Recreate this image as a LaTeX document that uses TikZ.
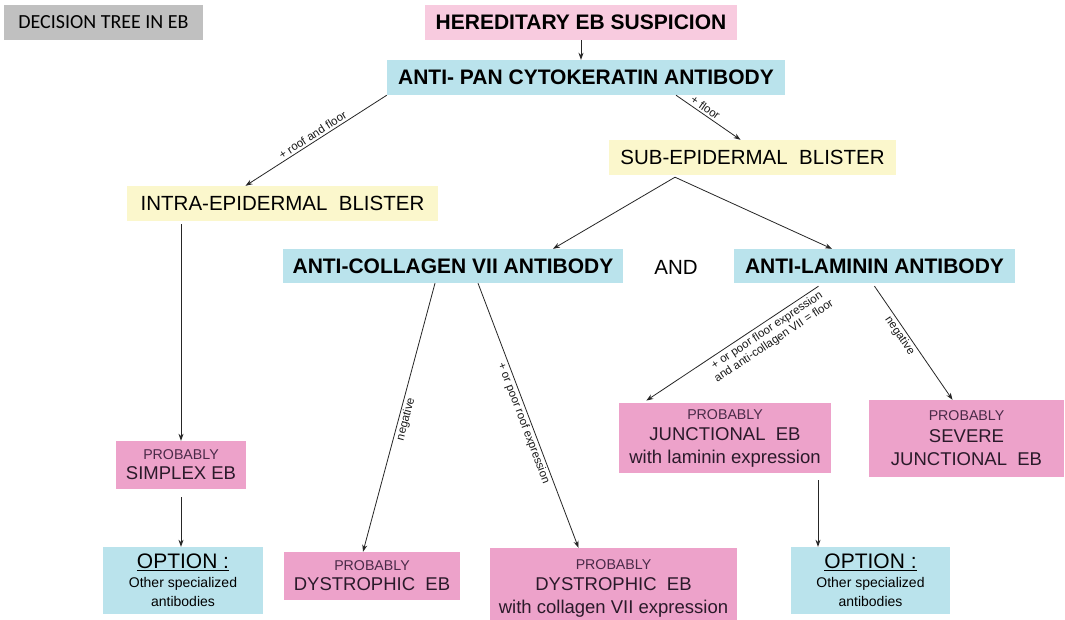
\documentclass[tikz,border=0pt]{standalone}
\usepackage{fontspec}
\setmainfont{Liberation Sans}
\newfontfamily\calfont{Carlito}
\usetikzlibrary{arrows.meta}
\definecolor{cgray}{HTML}{C0C0C0}
\definecolor{cpinkl}{HTML}{F8CBDF}
\definecolor{cblue}{HTML}{BAE3EC}
\definecolor{cyellow}{HTML}{FBF7CC}
\definecolor{cpink}{HTML}{EDA2CA}
\definecolor{ctxt}{HTML}{2A1A2A}
\definecolor{cprob}{HTML}{4A2A48}
\tikzset{
  box/.style={rectangle, inner sep=0pt, align=center, text=black},
  hdr/.style={box, font=\fontsize{21}{23}\selectfont\bfseries},
  blister/.style={box, fill=cyellow, font=\fontsize{20.5}{22}\selectfont},
  prob/.style={box, fill=cpink, text=ctxt, font=\fontsize{18.5}{23}\selectfont},
  opt/.style={box, fill=cblue, font=\fontsize{14}{19}\selectfont},
  arr/.style={draw=black!85, line width=0.8pt, -{Stealth[length=7pt,width=5pt]}},
  lbl/.style={font=\fontsize{11.5}{12.5}\selectfont, inner sep=2pt, text=black!90},
}
\newcommand{\probword}{{\fontsize{14.2}{17}\selectfont\color{cprob}PROBABLY}}
\begin{document}
\begin{tikzpicture}[x=1pt,y=-1pt]
\useasboundingbox (0,0) rectangle (1065,619);
\fill[white] (0,0) rectangle (1065,619);

\node[box, fill=cgray, minimum width=199pt, minimum height=35pt, font=\calfont\fontsize{20}{22}\selectfont] (title) at (103.5,22.5) {DECISION TREE IN EB};

\node[hdr, fill=cpinkl, minimum width=312pt, minimum height=35pt] (hered) at (581,22.5) {HEREDITARY EB SUSPICION};
\node[hdr, fill=cblue, minimum width=398pt, minimum height=35pt] (pan) at (586,77.5) {ANTI- PAN CYTOKERATIN ANTIBODY};

\node[blister, minimum width=287pt, minimum height=35pt] (sub) at (752.5,157.5) {SUB-EPIDERMAL\ \ BLISTER};
\node[blister, minimum width=311pt, minimum height=35pt] (intra) at (282.5,203.5) {INTRA-EPIDERMAL\ \ BLISTER};

\node[hdr, fill=cblue, minimum width=340pt, minimum height=34pt] (coll) at (453,266) {ANTI-COLLAGEN VII ANTIBODY};
\node[box, font=\fontsize{20.5}{22}\selectfont] (and) at (676,267) {AND};
\node[hdr, fill=cblue, minimum width=281pt, minimum height=34pt] (lam) at (874.5,266) {ANTI-LAMININ ANTIBODY};

\node[prob, minimum width=130pt, minimum height=48pt] (simplex) at (181,465) {\probword\\[-3pt]SIMPLEX EB};
\node[prob, minimum width=176pt, minimum height=48pt] (dys) at (372,576) {\probword\\[-3pt]DYSTROPHIC\ \ EB};
\node[prob, minimum width=247pt, minimum height=80pt] (dys2) at (613.5,588) {\probword\\[-2pt]DYSTROPHIC\ \ EB\\with collagen VII expression};
\node[prob, minimum width=212pt, minimum height=70pt] (junc) at (725,438) {\probword\\[-2pt]JUNCTIONAL\ \ EB\\with\ laminin\ expression};
\node[prob, minimum width=195pt, minimum height=77pt] (sev) at (966.5,438.5) {\probword\\[-1pt]SEVERE\\JUNCTIONAL\ \ EB};

\node[opt, minimum width=160pt, minimum height=67pt] (opt1) at (183,580.5) {{\fontsize{21}{22}\selectfont\underline{OPTION :}}\\[0pt]Other specialized\\antibodies};
\node[opt, minimum width=159pt, minimum height=67pt] (opt2) at (870.5,580.5) {{\fontsize{21}{22}\selectfont\underline{OPTION :}}\\[0pt]Other specialized\\antibodies};

% connectors
\draw[arr] (hered.south) -- (hered.south |- pan.north);
\draw[arr] (pan.south west) -- ([xshift=-37pt]intra.north)
  node[midway, sloped, above, lbl] {+ roof and floor};
\draw[arr] ([xshift=90pt]pan.south) -- ([xshift=-12pt]sub.north)
  node[midway, sloped, above, lbl, pos=0.4] {+ floor};
\draw[arr] ([xshift=-77.5pt,yshift=-2pt]sub.south) -- ([xshift=100pt]coll.north);
\draw[arr] ([xshift=-77.5pt,yshift=-2pt]sub.south) -- ([xshift=-42.5pt]lam.north);
\draw[arr, shorten <=3pt] ([xshift=-101.5pt]intra.south) -- (simplex.north);
\draw[arr, shorten <=8pt] (simplex.south) -- (simplex.south |- opt1.north);
\draw[arr] ([xshift=-18pt]coll.south) -- ([xshift=-9pt]dys.north)
  node[pos=0.5, sloped, below, lbl, inner sep=1.5pt] {negative};
\draw[arr] ([xshift=25pt]coll.south) -- ([xshift=-35pt]dys2.north)
  node[pos=0.52, sloped, below, lbl, inner sep=1.5pt] {+ or poor roof expression};
\draw[arr, shorten >=4pt] ([xshift=-56pt,yshift=-3pt]lam.south) -- ([xshift=-82pt]junc.north)
  node[pos=0.32, sloped, below, lbl, align=center, inner sep=3pt] {+ or poor floor expression\\and anti-collagen VII = floor};
\draw[arr] ([yshift=-3pt]lam.south) -- ([xshift=-14pt]sev.north)
  node[pos=0.4, sloped, below, lbl, inner sep=1.5pt] {negative};
\draw[arr, shorten <=7pt] ([xshift=93pt]junc.south) -- ([xshift=93pt]junc.south |- opt2.north);
\end{tikzpicture}
\end{document}
